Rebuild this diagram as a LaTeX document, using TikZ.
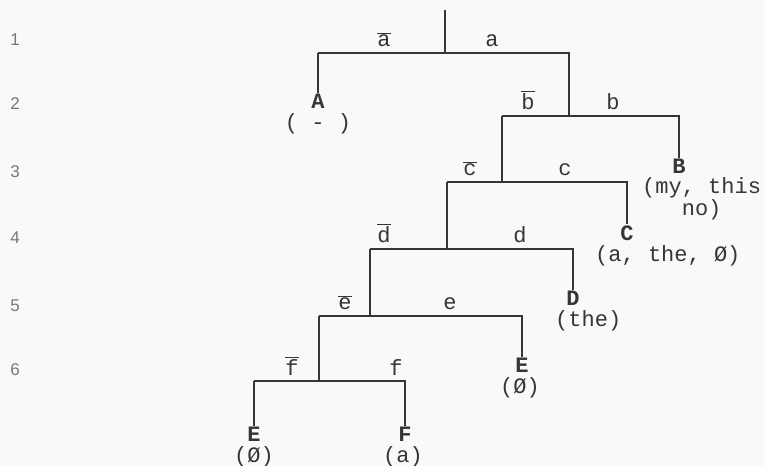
\documentclass[tikz,border=0pt]{standalone}
\usepackage{fontspec}
\setmainfont{Liberation Mono}
\newfontfamily\rowfont{Liberation Sans}
\usetikzlibrary{positioning}
\definecolor{ink}{HTML}{363636}
\definecolor{paper}{HTML}{F9F9F7}
\definecolor{rowgray}{HTML}{777777}
\newcommand\negl[1]{$\overline{\mbox{#1}}$}

\begin{document}
\begin{tikzpicture}[x=1pt, y=-1pt, branch/.style={draw=ink, line width=1.3pt}, lab/.style={text=ink, anchor=base, font=\fontsize{22}{20}\selectfont, inner sep=0pt}, leaf/.style={text=ink, font=\fontsize{22}{20}\selectfont\bfseries, inner sep=1pt}, set/.style={text=ink, font=\fontsize{22}{20}\selectfont, align=left, inner sep=0pt}, rownum/.style={text=rowgray, font=\rowfont\fontsize{17}{18}\selectfont}]
\fill[paper] (0,0) rectangle (764,466);
\useasboundingbox (0,0) rectangle (764,466);
\foreach \n/\y in {1/40,2/104,3/172,4/238,5/306,6/370}
  \node[rownum] (row\n) at (15,\y) {\n};
\coordinate (top) at (445,10);
\coordinate (j1) at (445,53);
\coordinate (l1) at (318,53);
\coordinate (r1) at (569,53);
\coordinate (j2) at (569,116);
\coordinate (l2) at (502,116);
\coordinate (r2) at (679,116);
\coordinate (j3) at (502,182);
\coordinate (l3) at (447,182);
\coordinate (r3) at (627,182);
\coordinate (j4) at (447,249);
\coordinate (l4) at (370,249);
\coordinate (r4) at (573,249);
\coordinate (j5) at (370,316);
\coordinate (l5) at (319,316);
\coordinate (r5) at (522,316);
\coordinate (j6) at (319,381);
\coordinate (l6) at (254,381);
\coordinate (r6) at (405,381);
\node[lab] (tna) at (384,46) {\negl{a}};
\node[lab] (ta) at (492,46) {a};
\node[lab] (tnb) at (528,109) {\negl{b}};
\node[lab] (tb) at (613,109) {b};
\node[lab] (tnc) at (470,175) {\negl{c}};
\node[lab] (tc) at (565,175) {c};
\node[lab] (tnd) at (384,242) {\negl{d}};
\node[lab] (td) at (520,242) {d};
\node[lab] (tne) at (345,309) {\negl{e}};
\node[lab] (te) at (450,309) {e};
\node[lab] (tnf) at (292,375) {\negl{f}};
\node[lab] (tf) at (396,375) {f};
\node[leaf] (nA) at (318,101) {A};
\node[set] (sA) at (318,124) {( - )};
\node[leaf] (nB) at (679,166) {B};
\node[set, anchor=west] (sB) at (642,199) {(my, this\\\phantom{(my}no)};
\node[leaf] (nC) at (627,233) {C};
\node[set, anchor=west] (sC) at (595,256) {(a, the, Ø)};
\node[leaf] (nD) at (573,298) {D};
\node[set, anchor=west] (sD) at (555,321) {(the)};
\node[leaf] (nE) at (522,365) {E};
\node[set] (sE) at (520,388) {(Ø)};
\node[leaf] (nEE) at (254,434) {E};
\node[set] (sEE) at (254,457) {(Ø)};
\node[leaf] (nF) at (405,434) {F};
\node[set] (sF) at (403,457) {(a)};
\draw[branch] (top) -- (j1);
\draw[branch] (l1) -- (r1) -- (j2);
\draw[branch] (l1) -- (nA);
\draw[branch] (l2) -- (r2) -- (nB);
\draw[branch] (l2) -- (j3);
\draw[branch] (l3) -- (r3) -- (nC);
\draw[branch] (l3) -- (j4);
\draw[branch] (l4) -- (r4) -- (nD);
\draw[branch] (l4) -- (j5);
\draw[branch] (l5) -- (r5) -- (nE);
\draw[branch] (l5) -- (j6);
\draw[branch] (l6) -- (r6) -- (nF);
\draw[branch] (l6) -- (nEE);
\end{tikzpicture}
\end{document}
